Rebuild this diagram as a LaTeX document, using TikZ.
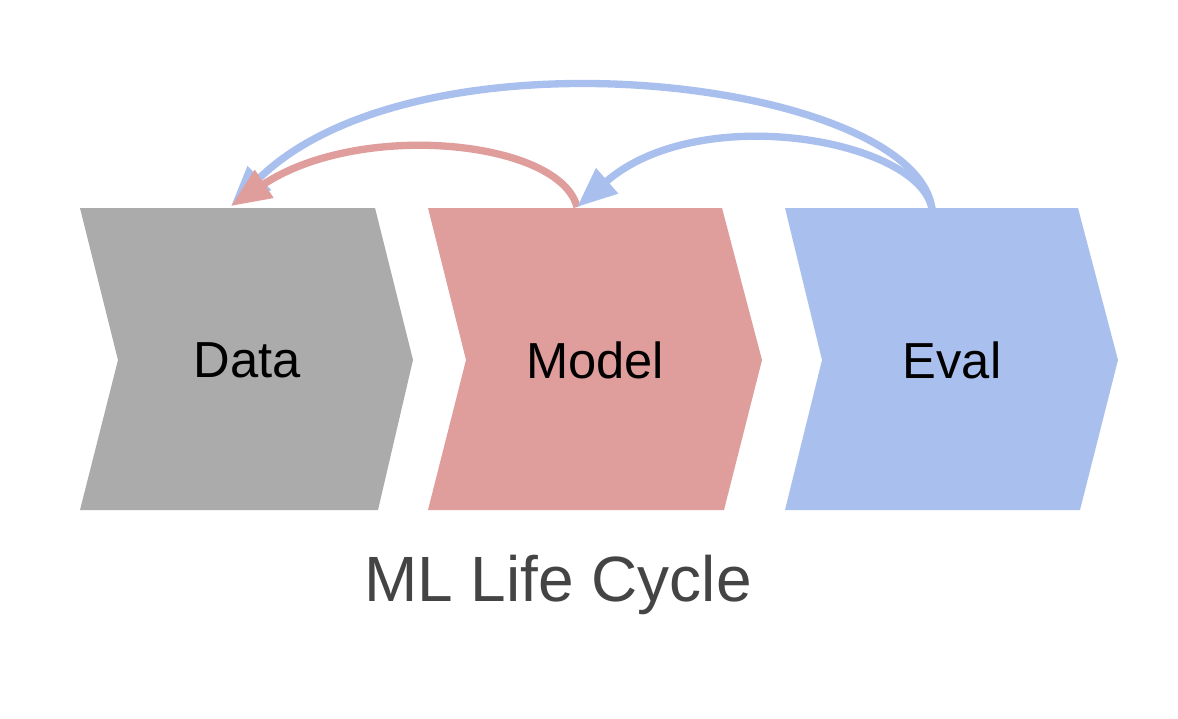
\documentclass[tikz,border=0pt]{standalone}
\usepackage{fontspec}
\setmainfont{Liberation Sans}
\usetikzlibrary{arrows.meta}
\definecolor{cgray}{HTML}{ABABAB}
\definecolor{cred}{HTML}{DF9D9C}
\definecolor{cblue}{HTML}{A9C0EE}
\definecolor{ctext}{HTML}{444444}
\begin{document}
\begin{tikzpicture}[x=0.75pt,y=-0.75pt,
  lab/.style={font=\fontsize{38}{40}\selectfont, text=black},
  arr/.style={line width=5.5pt, -{Triangle[length=30pt,width=24pt]}}]
\useasboundingbox (0,0) rectangle (1178,718);
\fill[cgray] (80,208)--(375,208)--(413,360)--(378,510)--(80,510)--(118,360)--cycle;
\fill[cred] (428,208)--(722,208)--(762,360)--(724,510)--(428,510)--(466,360)--cycle;
\fill[cblue] (785,208)--(1078,208)--(1118,360)--(1080,510)--(785,510)--(822,360)--cycle;
\node[lab] (data) at (247,360) {Data};
\node[lab] (model) at (595,360) {Model};
\node[lab] (eval) at (952,360) {Eval};
\node[font=\fontsize{48}{50}\selectfont, text=ctext] (title) at (558,585) {ML Life Cycle};
\coordinate (dtop) at (231,206);
\coordinate (mtop) at (577,207);
\coordinate (etop) at (932,209);
\draw[arr, cblue] (etop) .. controls (915,80) and (420,20) .. (dtop);
\draw[arr, cred] (mtop) .. controls (560,140) and (360,120) .. (dtop);
\draw[arr, cblue] (etop) .. controls (920,140) and (700,100) .. (mtop);
\end{tikzpicture}
\end{document}
